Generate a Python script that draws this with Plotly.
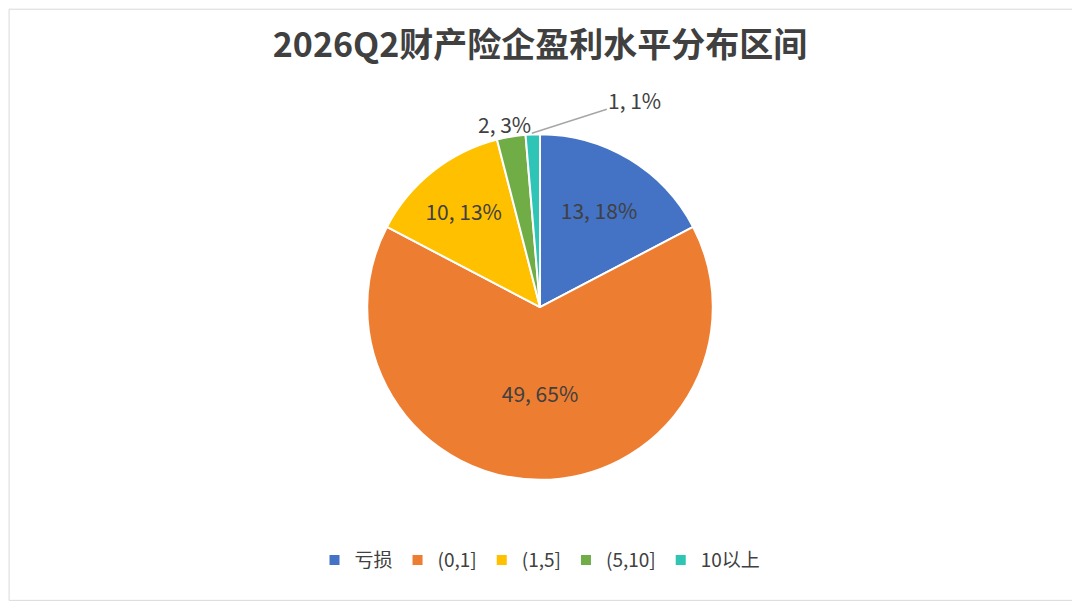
import plotly.graph_objects as go

labels = ["亏损", "(0,1]", "(1,5]", "(5,10]", "10以上"]
counts = [13, 49, 10, 2, 1]
pct_text = ["18%", "65%", "13%", "3%", "1%"]
colors = ["#4472C4", "#ED7D31", "#FFC000", "#70AD47", "#2EC4B6"]

texts = [f"{c}, {p}" for c, p in zip(counts, pct_text)]

fig = go.Figure(go.Pie(
    labels=labels, values=counts, text=texts[:3] + ["", ""], textinfo="text",
    sort=False, direction="clockwise", rotation=0,
    marker=dict(colors=colors, line=dict(color="white", width=2)),
    textposition="inside",
    insidetextorientation="horizontal",
    textfont=dict(size=21, color="#404040"),
    domain=dict(x=[0.3326, 0.6526], y=[0.2153, 0.7913]),
    hoverinfo="label+value",
))

# labels of the two small slices, placed outside like the original
fig.add_annotation(text=texts[3], x=0.460, y=0.836, xref="paper", yref="paper",
                   showarrow=False, font=dict(size=21, color="#404040"))
fig.add_annotation(text=texts[4], x=0.485, y=0.792, xref="paper", yref="paper",
                   ax=103, ay=-33, showarrow=True, arrowhead=0, arrowwidth=1.5,
                   arrowcolor="#A6A6A6", font=dict(size=21, color="#404040"))

fig.update_layout(
    width=1080, height=602,
    margin=dict(l=0, r=0, t=0, b=0),
    paper_bgcolor="white",
    font=dict(family="Noto Sans CJK SC", color="#404040"),
    title=dict(text="<b>2026Q2财产险企盈利水平分布区间</b>", x=0.4926, y=0.939,
               xanchor="center", yanchor="middle",
               font=dict(size=34, color="#404040")),
    legend=dict(orientation="h", x=0.4926, xanchor="center", y=0.083, yanchor="middle",
                font=dict(size=19, color="#404040"), itemwidth=30),
    shapes=[dict(type="rect", xref="paper", yref="paper", x0=0.001, y0=0.016,
                 x1=0.991, y1=0.998, line=dict(color="#D9D9D9", width=1))],
)

fig.write_html("out.html")
